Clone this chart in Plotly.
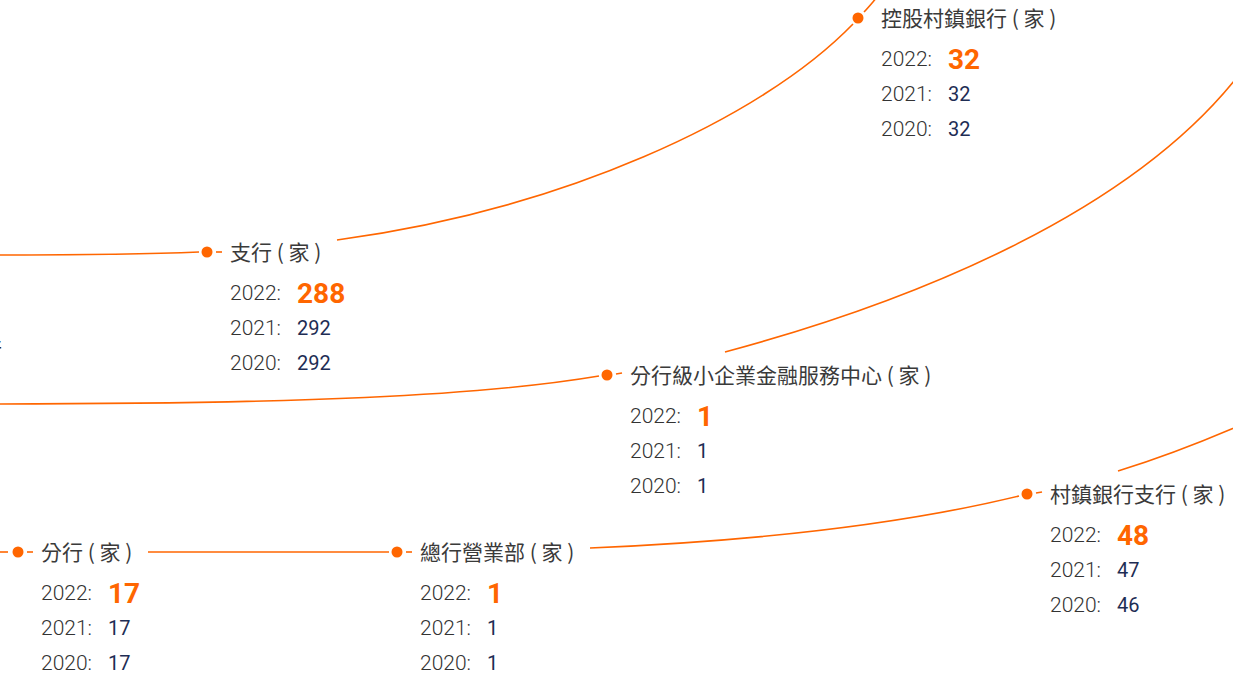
import plotly.graph_objects as go

# ---------------- data ----------------
categories = ["控股村鎮銀行", "支行", "分行級小企業金融服務中心", "村鎮銀行支行", "分行", "總行營業部"]
unit = "家"
years = ["2022", "2021", "2020"]
v2022 = [32, 288, 1, 48, 17, 1]
v2021 = [32, 292, 1, 47, 17, 1]
v2020 = [32, 292, 1, 46, 17, 1]
partial_root = "行"

# ---------------- diagram layout (pixels) ----------------
W, H = 1233, 679
node_x = [858, 207, 607, 1027, 18, 397]
node_y = [18, 252, 375, 494, 552, 552]

ORANGE = "#FF6600"
NAVY = "#1E2D54"
GREY = "#3a3a3a"
LW = 1.6
CJK = "Noto Sans CJK TC, Noto Sans, sans-serif"
NUM = "Roboto, Noto Sans, sans-serif"

fig = go.Figure()


def bez(p0, p1, p2, p3):
    return (f"M {p0[0]},{p0[1]} C {p1[0]},{p1[1]} {p2[0]},{p2[1]} "
            f"{p3[0]},{p3[1]}")


def seg(a, b):
    return f"M {a[0]},{a[1]} L {b[0]},{b[1]}"


# node index shortcuts
K, Z, F, C, B, M = range(6)
nx, ny = node_x, node_y

paths = [
    # row through 支行 -> 控股村鎮銀行
    bez((-20, ny[Z] + 3), (100, ny[Z] + 3), (150, ny[Z] + 2), (nx[Z] - 8, ny[Z])),
    seg((nx[Z] + 9, ny[Z]), (nx[Z] + 15, ny[Z])),
    bez((337, 240), (560, 210), (760, 120), (nx[K] - 5, ny[K] + 6)),
    bez((nx[K] + 6, ny[K] - 6), (nx[K] + 10, ny[K] - 10), (nx[K] + 14, ny[K] - 15),
        (nx[K] + 20, ny[K] - 22)),
    # row through 分行級小企業金融服務中心
    bez((-20, 404), (300, 404), (480, 396), (nx[F] - 8, ny[F] + 1)),
    seg((nx[F] + 9, ny[F] - 1), (nx[F] + 15, ny[F] - 2)),
    bez((725, 352), (900, 305), (1140, 215), (1250, 60)),
    # bottom row
    seg((-5, ny[B]), (nx[B] - 10, ny[B])),
    seg((nx[B] + 9, ny[B]), (nx[B] + 15, ny[B])),
    seg((148, ny[M]), (nx[M] - 8, ny[M])),
    seg((nx[M] + 9, ny[M]), (nx[M] + 15, ny[M])),
    bez((590, 548), (780, 540), (920, 520), (nx[C] - 8, ny[C] + 2)),
    seg((nx[C] + 9, ny[C] - 1), (nx[C] + 15, ny[C] - 2)),
    bez((1118, 471), (1160, 458), (1200, 443), (1250, 421)),
]

shapes = [dict(type="path", path=p, xref="x", yref="y",
               line=dict(color=ORANGE, width=LW), layer="below")
          for p in paths]

# nodes
fig.add_trace(go.Scatter(
    x=node_x, y=node_y, mode="markers",
    marker=dict(size=11, color=ORANGE, line=dict(width=0)),
    hoverinfo="skip", cliponaxis=False, showlegend=False))

annotations = []
LBL_DX = 21
VAL_DX = 67
ROW_DY = [41, 76, 111]
series = [v2022, v2021, v2020]
for i, name in enumerate(categories):
    x0 = node_x[i] + LBL_DX
    annotations.append(dict(
        x=x0, y=node_y[i] - 1, xref="x", yref="y", text=f"{name} ( {unit} )",
        showarrow=False, xanchor="left", yanchor="middle",
        font=dict(family=CJK, size=21, color=GREY)))
    for r, yr in enumerate(years):
        yy = node_y[i] + ROW_DY[r]
        annotations.append(dict(
            x=x0, y=yy, xref="x", yref="y", text=f"{yr}:",
            showarrow=False, xanchor="left", yanchor="middle",
            font=dict(family=NUM, size=21, color="#333333", weight=300)))
        if r == 0:
            vf = dict(family=NUM, size=28, color=ORANGE, weight=700)
        else:
            vf = dict(family=NUM, size=20, color=NAVY, weight=400)
        annotations.append(dict(
            x=x0 + VAL_DX, y=yy, xref="x", yref="y", text=str(series[r][i]),
            showarrow=False, xanchor="left", yanchor="middle", font=vf))

# partially visible root label at the left edge
annotations.append(dict(
    x=4, y=348, xref="x", yref="y", text=partial_root, showarrow=False,
    xanchor="right", yanchor="middle",
    font=dict(family=CJK, size=22, color="#222222")))

fig.update_layout(
    width=W, height=H,
    margin=dict(l=0, r=0, t=0, b=0, pad=0),
    paper_bgcolor="white", plot_bgcolor="white",
    xaxis=dict(range=[0, W], visible=False, fixedrange=True),
    yaxis=dict(range=[H, 0], visible=False, fixedrange=True),
    shapes=shapes, annotations=annotations, showlegend=False,
)

fig.write_html("out.html", config={"displayModeBar": False},
               post_script="document.body.style.margin='0px';"
                           "document.body.style.overflow='hidden';")
